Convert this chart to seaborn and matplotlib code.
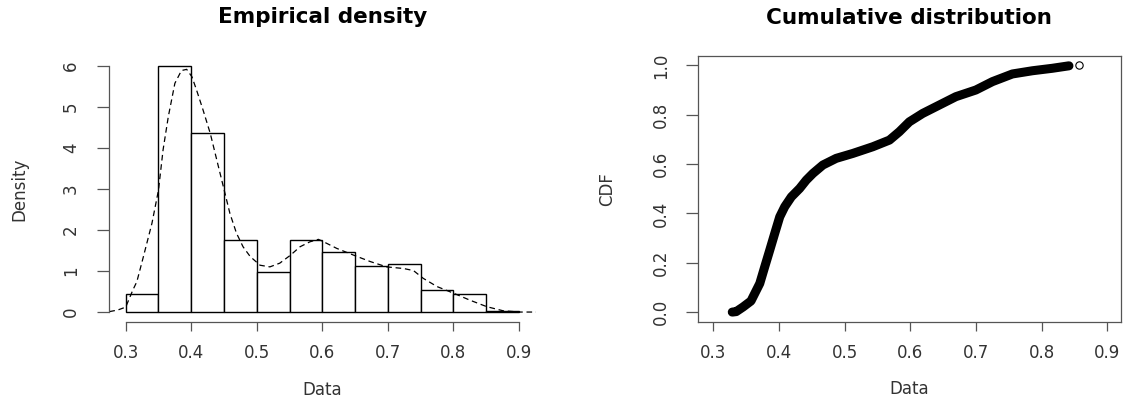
import matplotlib
matplotlib.use("Agg")
import matplotlib.pyplot as plt
import seaborn as sns
import numpy as np

# histogram (density scale), bins of width 0.05
bin_edges = [0.30, 0.35, 0.40, 0.45, 0.50, 0.55, 0.60, 0.65, 0.70, 0.75, 0.80, 0.85, 0.90]
bin_heights = [0.45, 6.00, 4.35, 1.76, 0.98, 1.76, 1.45, 1.11, 1.18, 0.53, 0.43, 0.02]

# kernel density curve
dens_x = [0.275, 0.288, 0.300, 0.311, 0.317, 0.327, 0.340, 0.350, 0.357, 0.365,
          0.375, 0.385, 0.393, 0.401, 0.408, 0.418, 0.429, 0.439, 0.449, 0.459,
          0.469, 0.479, 0.490, 0.505, 0.520, 0.535, 0.551, 0.566, 0.581, 0.594,
          0.602, 0.622, 0.647, 0.673, 0.698, 0.724, 0.739, 0.754, 0.775, 0.800,
          0.825, 0.851, 0.876, 0.902, 0.927]
dens_y = [0.01, 0.05, 0.12, 0.54, 0.74, 1.35, 2.16, 2.97, 3.95, 4.76,
          5.57, 5.88, 5.91, 5.73, 5.41, 4.92, 4.35, 3.70, 3.05, 2.40,
          1.92, 1.59, 1.35, 1.14, 1.10, 1.19, 1.38, 1.59, 1.71, 1.77,
          1.71, 1.55, 1.39, 1.23, 1.10, 1.06, 1.01, 0.82, 0.62, 0.46,
          0.29, 0.13, 0.03, 0.00, 0.00]

# empirical CDF
ecdf_x = [0.329, 0.335, 0.3456, 0.3575, 0.3709, 0.3785, 0.3861, 0.3937, 0.4013, 0.4089,
          0.419, 0.4316, 0.4418, 0.4519, 0.467, 0.4873, 0.5127, 0.543, 0.5684, 0.5835,
          0.5987, 0.619, 0.6443, 0.6696, 0.700, 0.7253, 0.7557, 0.7861, 0.8165, 0.8418,
          0.857]
ecdf_y = [0.000, 0.002, 0.021, 0.045, 0.116, 0.184, 0.251, 0.319, 0.386, 0.427,
          0.467, 0.501, 0.535, 0.562, 0.596, 0.623, 0.643, 0.670, 0.697, 0.731,
          0.771, 0.805, 0.839, 0.873, 0.900, 0.934, 0.965, 0.978, 0.988, 0.998,
          1.000]

x_ticks = [0.3, 0.4, 0.5, 0.6, 0.7, 0.8, 0.9]
x_labels = ["0.3", "0.4", "0.5", "0.6", "0.7", "0.8", "0.9"]
dens_ticks = [0, 1, 2, 3, 4, 5, 6]
cdf_ticks = [0.0, 0.2, 0.4, 0.6, 0.8, 1.0]
cdf_labels = ["0.0", "0.2", "0.4", "0.6", "0.8", "1.0"]

sns.set_theme(style="white")
plt.rcParams['font.family'] = ['DejaVu Sans']

axis_col = "#555555"
text_col = "#333333"

fig = plt.figure(figsize=(11.3, 3.99), dpi=100)
ax1 = fig.add_axes([0.09646, 0.1922, 0.3779, 0.669])
ax2 = fig.add_axes([0.6174, 0.1937, 0.3746, 0.6667])

# left: empirical density
bin_mids = [(a + b) / 2 for a, b in zip(bin_edges[:-1], bin_edges[1:])]
sns.histplot(x=bin_mids, weights=bin_heights, bins=bin_edges, ax=ax1,
             color="white", edgecolor="black", linewidth=1.0, alpha=1)
sns.lineplot(x=dens_x, y=dens_y, ax=ax1, color="black", linewidth=0.9,
             dashes=False, linestyle=(0, (4.5, 3)))
ax1.set_xlim(0.2745, 0.926)
ax1.set_ylim(-0.25, 6.25)
ax1.set_xticks(x_ticks)
ax1.set_xticklabels(x_labels)
ax1.set_yticks(dens_ticks)
for side in ["top", "right"]:
    ax1.spines[side].set_visible(False)
ax1.spines["left"].set_bounds(0, 6)
ax1.spines["bottom"].set_bounds(0.3, 0.9)

# right: cumulative distribution
sns.lineplot(x=ecdf_x[:-1], y=ecdf_y[:-1], ax=ax2, color="black", linewidth=6.5,
             solid_capstyle="round", solid_joinstyle="round")
sns.scatterplot(x=ecdf_x[-1:], y=ecdf_y[-1:], ax=ax2, s=28, facecolor="white",
                edgecolor="black", linewidth=0.8, zorder=5)
ax2.set_xlim(0.2763, 0.921)
ax2.set_ylim(-0.039, 1.039)
ax2.set_xticks(x_ticks)
ax2.set_xticklabels(x_labels)
ax2.set_yticks(cdf_ticks)
ax2.set_yticklabels(cdf_labels)

for ax, ypad in [(ax1, 12.2), (ax2, 11.3)]:
    for sp in ax.spines.values():
        sp.set_color(axis_col)
        sp.set_linewidth(0.9)
    ax.tick_params(axis="x", direction="out", length=6.8, width=0.9, color=axis_col,
                   pad=8.9, labelsize=12, labelcolor=text_col, bottom=True)
    ax.tick_params(axis="y", direction="out", length=8.8, width=0.9, color=axis_col,
                   pad=ypad, labelsize=12, labelcolor=text_col, left=True, labelrotation=90)
    for lab in ax.get_yticklabels():
        lab.set_va("center")
    ax.set_xlabel("Data", fontsize=12, color=text_col)
    ax.xaxis.label.set_va("center")

ax1.xaxis.set_label_coords(0.5, -0.252)
ax2.xaxis.set_label_coords(0.5, -0.2526)

ax1.set_ylabel("Density", fontsize=12, color=text_col)
ax1.yaxis.label.set_va("center")
ax1.yaxis.set_label_coords(-0.2096, 0.5)
ax2.set_ylabel("CDF", fontsize=12, color=text_col)
ax2.yaxis.label.set_va("center")
ax2.yaxis.set_label_coords(-0.213, 0.5)

ax1.set_title("Empirical density", fontsize=15.5, fontweight="bold", color="black",
              y=1.142, va="center", pad=0)
ax2.set_title("Cumulative distribution", fontsize=15.5, fontweight="bold", color="black",
              y=1.1436, va="center", pad=0)

plt.savefig("out.png", dpi=100)
plt.close()
